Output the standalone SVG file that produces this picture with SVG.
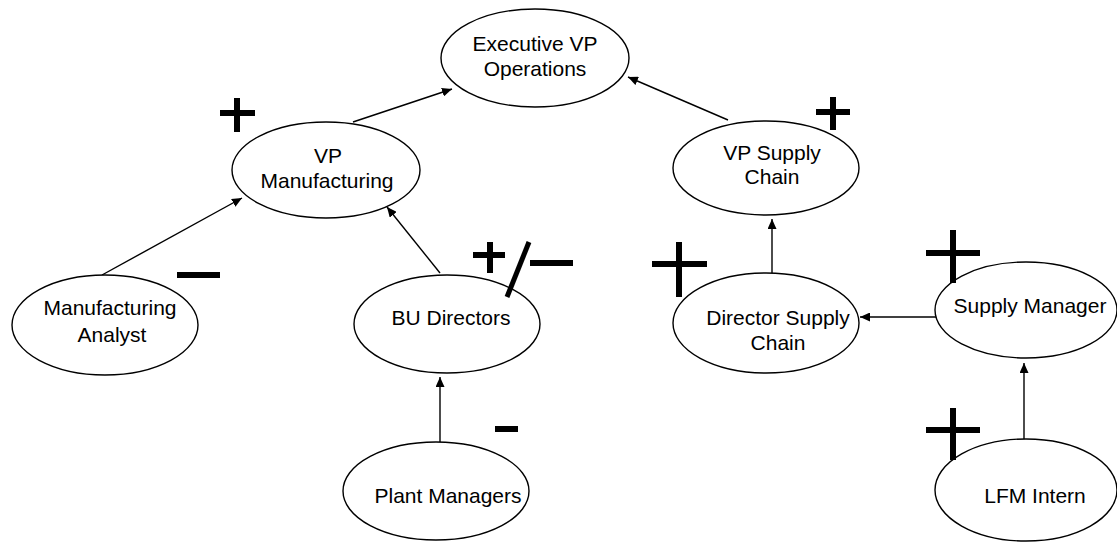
<svg xmlns="http://www.w3.org/2000/svg" width="1117" height="542" viewBox="0 0 1117 542">
<defs>
<style>
.node ellipse{fill:#fff;stroke:#000;stroke-width:1.4}
.node text{font-family:"Liberation Sans",Arial,sans-serif;font-size:21px;fill:#000;text-anchor:middle}
.edge{stroke:#000;stroke-width:1.4;fill:none;marker-end:url(#arr)}
.mark{stroke:#000;stroke-width:6;fill:none}
</style>
<marker id="arr" markerUnits="userSpaceOnUse" markerWidth="11" markerHeight="9" refX="10" refY="4.5" orient="auto">
<path d="M0,0 L10,4.5 L0,9 z" fill="#000"/>
</marker>
</defs>
<rect width="1117" height="542" fill="#fff"/>
<g id="connectors">
<line class="edge" x1="353" y1="122" x2="452" y2="89"/>
<line class="edge" x1="728" y1="120" x2="628" y2="77"/>
<line class="edge" x1="102" y1="275" x2="242" y2="198"/>
<line class="edge" x1="440" y1="273" x2="387" y2="207"/>
<line class="edge" x1="440" y1="442" x2="440" y2="377"/>
<line class="edge" x1="772" y1="273" x2="772" y2="219"/>
<line class="edge" x1="938" y1="317" x2="860" y2="317"/>
<line class="edge" x1="1024" y1="440" x2="1024" y2="363"/>
</g>
<g id="exec" class="node"><ellipse cx="535" cy="58" rx="94" ry="49"/><text x="535" y="51">Executive VP</text><text x="535" y="76">Operations</text></g>
<g id="vpmfg" class="node"><ellipse cx="326" cy="170" rx="94" ry="48"/><text x="328" y="163">VP</text><text x="327" y="188">Manufacturing</text></g>
<g id="vpsupply" class="node"><ellipse cx="766" cy="168" rx="93" ry="47"/><text x="772" y="160">VP Supply</text><text x="772" y="184">Chain</text></g>
<g id="analyst" class="node"><ellipse cx="105" cy="325" rx="93" ry="50"/><text x="110" y="315">Manufacturing</text><text x="112" y="342">Analyst</text></g>
<g id="bu" class="node"><ellipse cx="447" cy="324" rx="93" ry="49"/><text x="451" y="325">BU Directors</text></g>
<g id="plant" class="node"><ellipse cx="436" cy="491" rx="93" ry="49"/><text x="448" y="503">Plant Managers</text></g>
<g id="director" class="node"><ellipse cx="766" cy="323" rx="93" ry="50"/><text x="778" y="325">Director Supply</text><text x="778" y="350">Chain</text></g>
<g id="supplymgr" class="node"><ellipse cx="1026" cy="310" rx="91" ry="48"/><text x="1030" y="313">Supply Manager</text></g>
<g id="lfm" class="node"><ellipse cx="1026" cy="490" rx="91" ry="51"/><text x="1035" y="503">LFM Intern</text></g>
<g id="marks">
<path class="mark" d="M220,113 H255 M237,98 V132"/>
<path class="mark" d="M816,112 H850 M833,97 V130"/>
<path class="mark" d="M473,255 H505 M490,242 V273"/>
<path class="mark" d="M529,242 L507,297" style="stroke-width:5"/>
<path class="mark" d="M530,263 H573"/>
<path class="mark" d="M177,275 H220"/>
<path class="mark" d="M495,429 H518"/>
<path class="mark" d="M652,264 H707 M679,242 V297"/>
<path class="mark" d="M926,253 H980 M953,230 V283"/>
<path class="mark" d="M926,430 H980 M953,408 V460"/>
</g>
</svg>
